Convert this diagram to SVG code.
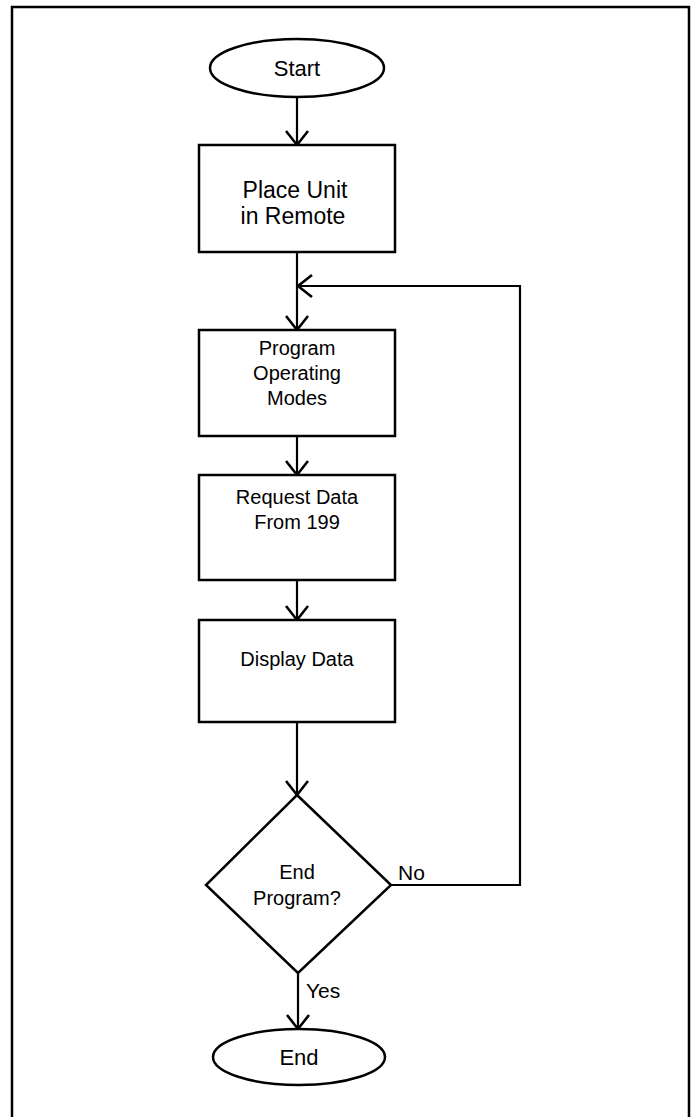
<svg xmlns="http://www.w3.org/2000/svg" width="691" height="1117" viewBox="0 0 691 1117">
  <defs>
    <style>
      .shape { fill: #ffffff; stroke: #000000; stroke-width: 2.5; }
      .frame { fill: none; stroke: #000000; stroke-width: 2.5; }
      .line { fill: none; stroke: #000000; stroke-width: 2.2; }
      .t { font-family: "Liberation Sans", Arial, Helvetica, sans-serif; fill: #000000; text-anchor: middle; }
      .s20 { font-size: 20px; }
      .s22 { font-size: 22px; }
      .s23 { font-size: 23px; }
      .lbl { font-family: "Liberation Sans", Arial, Helvetica, sans-serif; fill: #000000; font-size: 21px; }
    </style>
    <marker id="arrow" viewBox="0 0 24 24" refX="19" refY="12" markerWidth="24" markerHeight="24" markerUnits="userSpaceOnUse" orient="auto">
      <path d="M5,1 L19,12 L5,23" fill="none" stroke="#000000" stroke-width="2.6"/>
    </marker>
  </defs>
  <rect width="691" height="1117" fill="#ffffff"/>
  <path class="frame" d="M12,1117 L12,7 L689,7 L689,1117"/>

  <g id="connectors">
    <line class="line" x1="297" y1="97" x2="297" y2="145" marker-end="url(#arrow)"/>
    <line class="line" x1="297" y1="252" x2="297" y2="330" marker-end="url(#arrow)"/>
    <line class="line" x1="297" y1="436" x2="297" y2="475" marker-end="url(#arrow)"/>
    <line class="line" x1="297" y1="580" x2="297" y2="620" marker-end="url(#arrow)"/>
    <line class="line" x1="297" y1="722" x2="297" y2="795" marker-end="url(#arrow)"/>
    <line class="line" x1="298" y1="973" x2="298" y2="1029" marker-end="url(#arrow)"/>
    <polyline class="line" points="391,885 520,885 520,286 298,286" marker-end="url(#arrow)"/>
    <text class="lbl" x="398" y="880">No</text>
    <text class="lbl" x="306" y="998">Yes</text>
  </g>

  <g id="start">
    <ellipse class="shape" cx="297" cy="68" rx="87" ry="29"/>
    <text class="t s22" x="297" y="76">Start</text>
  </g>

  <g id="place-unit">
    <rect class="shape" x="199" y="145" width="196" height="107"/>
    <text class="t s23" x="295" y="198">Place Unit</text>
    <text class="t s23" x="293" y="224">in Remote</text>
  </g>

  <g id="program-modes">
    <rect class="shape" x="199" y="330" width="196" height="106"/>
    <text class="t s20" x="297" y="355">Program</text>
    <text class="t s20" x="297" y="380">Operating</text>
    <text class="t s20" x="297" y="405">Modes</text>
  </g>

  <g id="request-data">
    <rect class="shape" x="199" y="475" width="196" height="105"/>
    <text class="t s20" x="297" y="504">Request Data</text>
    <text class="t s20" x="297" y="529">From 199</text>
  </g>

  <g id="display-data">
    <rect class="shape" x="199" y="620" width="196" height="102"/>
    <text class="t s20" x="297" y="666">Display Data</text>
  </g>

  <g id="end-program">
    <polygon class="shape" points="297,795 391,885 298,973 206,885"/>
    <text class="t s20" x="297" y="879">End</text>
    <text class="t s20" x="297" y="905">Program?</text>
  </g>

  <g id="end">
    <ellipse class="shape" cx="299" cy="1057" rx="86" ry="28"/>
    <text class="t s22" x="299" y="1065">End</text>
  </g>
</svg>
